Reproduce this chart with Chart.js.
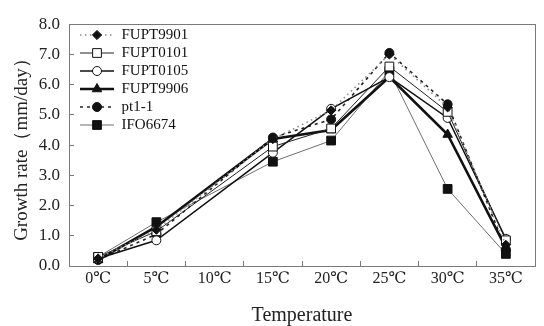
<!DOCTYPE html>
<html><head><meta charset="utf-8">
<script src="https://cdn.jsdelivr.net/npm/chart.js@4"></script>
<style>html,body{margin:0;padding:0;background:#fff}</style>
</head><body>
<canvas id="c" width="544" height="326"></canvas>
<script>
const categories = ['0℃','5℃','10℃','15℃','20℃','25℃','30℃','35℃'];
const seriesNames = ['FUPT9901','FUPT0101','FUPT0105','FUPT9906','pt1-1','IFO6674'];
const FUPT9901 = [0.25, 1.2, null, 4.2, 5.15, 7.0, 5.25, 0.7];
const FUPT0101 = [0.3, 1.15, null, 3.95, 4.55, 6.6, 5.1, 0.85];
const FUPT0105 = [0.25, 0.85, null, 3.75, 5.2, 6.25, 4.9, 0.9];
const FUPT9906 = [0.2, 1.3, null, 4.2, 4.5, 6.25, 4.35, 0.6];
const PT1_1    = [0.2, 1.05, null, 4.25, 4.85, 7.05, 5.35, 0.55];
const IFO6674  = [0.3, 1.45, null, 3.45, 4.15, 6.45, 2.55, 0.4];
const yTickLabels = ['0.0','1.0','2.0','3.0','4.0','5.0','6.0','7.0','8.0'];
const xTitle = 'Temperature';
const yTitle = 'Growth rate（mm/day）';

const seriesValues = [FUPT9901, FUPT0101, FUPT0105, FUPT9906, PT1_1, IFO6674];
const styles = [
  {borderColor:'#8c8c8c', borderWidth:1.6, borderDash:[1.5,3.5], pointStyle:'rectRot', pointRadius:4.6, pointBackgroundColor:'#111', pointBorderColor:'#111', pointBorderWidth:1},
  {borderColor:'#222', borderWidth:1, borderDash:[], pointStyle:'rect', pointRadius:6.2, pointBackgroundColor:'#fff', pointBorderColor:'#111', pointBorderWidth:1},
  {borderColor:'#111', borderWidth:1.5, borderDash:[], pointStyle:'circle', pointRadius:4.5, pointBackgroundColor:'#fff', pointBorderColor:'#111', pointBorderWidth:1},
  {borderColor:'#111', borderWidth:2.6, borderDash:[], pointStyle:'triangle', pointRadius:5.5, pointBackgroundColor:'#111', pointBorderColor:'#111', pointBorderWidth:1},
  {borderColor:'#222', borderWidth:1.6, borderDash:[3,4], pointStyle:'circle', pointRadius:4.5, pointBackgroundColor:'#111', pointBorderColor:'#111', pointBorderWidth:1},
  {borderColor:'#6e6e6e', borderWidth:1, borderDash:[], pointStyle:'rect', pointRadius:6.2, pointBackgroundColor:'#111', pointBorderColor:'#111', pointBorderWidth:1}
];

function makeIcon(st){
  const c = document.createElement('canvas');
  c.width = 34; c.height = 14;
  const g = c.getContext('2d');
  g.strokeStyle = st.borderColor; g.lineWidth = st.borderWidth;
  g.setLineDash(st.borderDash);
  g.beginPath(); g.moveTo(0, 7); g.lineTo(34, 7); g.stroke();
  g.setLineDash([]);
  g.fillStyle = st.pointBackgroundColor; g.strokeStyle = st.pointBorderColor; g.lineWidth = st.pointBorderWidth;
  Chart.helpers.drawPoint(g, {pointStyle: st.pointStyle, radius: st.pointRadius, borderWidth: st.pointBorderWidth, rotation: 0}, 17, 7);
  return c;
}

const datasets = seriesNames.map((n, i) => Object.assign({
  label: n, data: seriesValues[i], spanGaps: true, fill: false, tension: 0,
  pointHoverRadius: styles[i].pointRadius
}, styles[i]));

const SERIF = '"Liberation Serif", "DejaVu Serif", serif';

const framePlugin = {
  id: 'frame',
  afterLayout(chart){
    const lg = chart.legend;
    if (lg) { lg.left += 8; lg.right += 8; lg.top += 24.5; lg.bottom += 24.5; }
  },
  beforeDatasetsDraw(chart){
    const {ctx, chartArea: a} = chart;
    ctx.save();
    ctx.strokeStyle = '#7a7a7a'; ctx.lineWidth = 1;
    ctx.strokeRect(Math.round(a.left)+0.5, Math.round(a.top)+0.5, Math.round(a.right-a.left), Math.round(a.bottom-a.top));
    ctx.restore();
  }
};

new Chart(document.getElementById('c'), {
  type: 'line',
  data: { labels: categories, datasets },
  options: {
    responsive: false, animation: false, devicePixelRatio: 1,
    layout: { padding: { left: 0, top: 13, right: 9, bottom: 0 } },
    plugins: {
      legend: {
        position: 'chartArea', align: 'start',
        labels: {
          usePointStyle: true, pointStyleWidth: 34, boxHeight: 14, padding: 3,
          color: '#111', font: { family: SERIF, size: 15 },
          generateLabels(chart){
            return chart.data.datasets.map((ds, i) => ({
              text: ds.label, pointStyle: makeIcon(styles[i]), datasetIndex: i,
              fillStyle: '#111', strokeStyle: '#111', lineWidth: 0, hidden: false, fontColor: '#111'
            }));
          }
        }
      },
      tooltip: { enabled: false }
    },
    scales: {
      x: {
        type: 'category', offset: true,
        grid: { offset: true, drawOnChartArea: false, drawTicks: true, tickLength: -5, color: '#7a7a7a' },
        border: { display: false },
        ticks: { color: '#222', padding: 8, font: { family: SERIF, size: 16 }, maxRotation: 0, autoSkip: false },
        title: { display: true, text: xTitle, color: '#222', font: { family: SERIF, size: 20, lineHeight: 1.0 }, padding: { top: 0, bottom: 0 } },
        afterFit(s){ s.height = 60; }
      },
      y: {
        min: 0, max: 8,
        grid: { drawOnChartArea: false, drawTicks: true, tickLength: -5, color: '#7a7a7a' },
        border: { display: false },
        ticks: { stepSize: 1, color: '#222', padding: 14, font: { family: SERIF, size: 17 }, callback: (v, i) => yTickLabels[i] },
        title: { display: true, text: yTitle, color: '#222', font: { family: SERIF, size: 19 }, padding: { top: 11, bottom: 0 } },
        afterFit(s){ s.width = 69; }
      }
    }
  },
  plugins: [framePlugin]
});
</script>
</body></html>
